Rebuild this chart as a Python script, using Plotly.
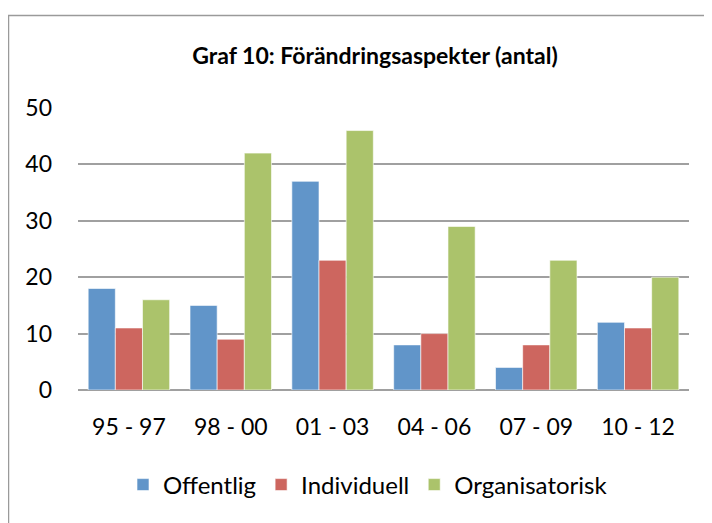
import plotly.graph_objects as go

categories = ["95 - 97", "98 - 00", "01 - 03", "04 - 06", "07 - 09", "10 - 12"]
offentlig = [18, 15, 37, 8, 4, 12]
individuell = [11, 9, 23, 10, 8, 11]
organisatorisk = [16, 42, 46, 29, 23, 20]
y_ticks = [0, 10, 20, 30, 40, 50]

OFF = 8  # browser body margin
W, H = 712 - OFF, 523 - OFF
# plot area in screen pixels: x 78..689, y 108..390
L, R, T, B = 78 - OFF, 712 - 689, 108 - OFF, 523 - 390
pw, ph = W - L - R, H - T - B

def px(x):
    return (x - OFF - L) / pw

def py(y):
    return (T + ph - (y - OFF)) / ph

fig = go.Figure()
for name, vals, col in [("Offentlig", offentlig, "#6195C9"),
                        ("Individuell", individuell, "#CD665F"),
                        ("Organisatorisk", organisatorisk, "#ABC36B")]:
    fig.add_trace(go.Bar(x=categories, y=vals, name=name,
                         marker=dict(color=col, line=dict(color="rgba(255,255,255,0.6)", width=1))))

font = "Lato, Calibri, Carlito, sans-serif"
fig.update_layout(
    width=W, height=H,
    margin=dict(l=L, r=R, t=T, b=B),
    paper_bgcolor="white", plot_bgcolor="white",
    barmode="group", bargap=0.2, bargroupgap=0,
    font=dict(family=font, size=23, color="black"),
    title=dict(text="<b>Graf 10: Förändringsaspekter (antal)</b>",
               x=px(375), xref="paper", xanchor="center",
               y=1 - (56 - OFF) / H, yanchor="middle",
               font=dict(family=font, size=23, color="black")),
    xaxis=dict(showgrid=False, showline=False, ticks="", ticklabelstandoff=21,
               tickfont=dict(size=23)),
    yaxis=dict(range=[0, 50], tickvals=y_ticks, showgrid=True, gridcolor="#A0A0A0",
               gridwidth=1.5, zeroline=True, zerolinecolor="#A0A0A0", zerolinewidth=1.5,
               showline=False, ticks="", ticklabelstandoff=25, tickfont=dict(size=23)),
    legend=dict(orientation="h", x=px(368), xanchor="center", y=py(485), yanchor="middle",
                font=dict(size=24), itemwidth=30, traceorder="normal", tracegroupgap=0),
    showlegend=True,
)

border = "#9A9A9A"
fig.add_shape(type="line", xref="paper", yref="paper", x0=px(7), x1=px(712 + 10), y0=py(15.5), y1=py(15.5),
              line=dict(color=border, width=1.5))
fig.add_shape(type="line", xref="paper", yref="paper", x0=px(8.5), x1=px(8.5), y0=py(15.5), y1=py(530),
              line=dict(color=border, width=1.5))

fig.write_html("out.html")
